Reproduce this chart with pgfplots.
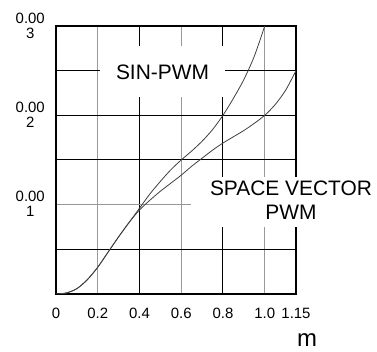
\documentclass[border=0pt]{standalone}
\usepackage{fontspec}
\setmainfont{Liberation Sans}
\usepackage{pgfplots}
\pgfplotsset{compat=1.18}
\begin{document}
\begin{tikzpicture}[x=1bp,y=1bp]
\useasboundingbox (0,0) rectangle (377,352);
\begin{axis}[
 at={(56bp,58bp)}, anchor=south west,
 scale only axis, width=240bp, height=268bp,
 xmin=0, xmax=1.15, ymin=0, ymax=0.003,
 scaled y ticks=false, scaled x ticks=false,
 /pgf/number format/assume math mode=true,
 axis line style={black, line width=1.1bp},
 xtick={0,0.4,0.8,1.15}, xticklabels={,,,,},
 minor xtick={0.2,0.6,1.0},
 ytick={0,0.0005,0.0015,0.002,0.0025,0.003}, yticklabels={,,,,,,},
 minor ytick={0.001},
 grid=both,
 major grid style={black, line width=1bp},
 minor grid style={black!40, line width=1.4bp},
 major tick length=0pt, minor tick length=0pt,
 tick style={draw=none},
 extra x ticks={0,0.2,0.4,0.6,0.8,1.0,1.15},
 extra x tick labels={0,0.2,0.4,0.6,0.8,1.0,1.15},
 extra x tick style={grid=none},
 extra y ticks={0.001,0.002,0.003},
 extra y tick labels={{0.00\\1},{0.00\\2},{0.00\\3}},
 extra y tick style={grid=none},
 tick label style={font=\fontsize{15}{15}\selectfont, inner sep=0pt},
 xticklabel style={anchor=north, yshift=-14bp},
 yticklabel style={align=center, anchor=east, xshift=-11bp, yshift=0.5bp},
]
\addplot[smooth, black!75, line width=0.8bp] coordinates {
(0,0) (0.05,0.000012) (0.1,0.00006) (0.15,0.00016) (0.2,0.0003) (0.25,0.00047)
(0.3,0.00064) (0.35,0.0008) (0.4,0.00096) (0.45,0.00112) (0.5,0.00126) (0.55,0.00139)
(0.6,0.0015) (0.65,0.0016) (0.7,0.00171) (0.75,0.00184) (0.8,0.002) (0.85,0.00219)
(0.9,0.0024) (0.95,0.00266) (1.0,0.003)};
\addplot[smooth, black!75, line width=0.8bp] coordinates {
(0,0) (0.05,0.000012) (0.1,0.00006) (0.15,0.00016) (0.2,0.0003) (0.25,0.00047)
(0.3,0.00064) (0.35,0.0008) (0.4,0.00094) (0.45,0.00105) (0.5,0.00115) (0.55,0.00124)
(0.6,0.00133) (0.65,0.00143) (0.7,0.00152) (0.75,0.00161) (0.8,0.00169) (0.85,0.00176)
(0.9,0.00183) (0.95,0.00191) (1.0,0.002) (1.05,0.00212) (1.1,0.00228) (1.15,0.0025)};
\end{axis}
\node[fill=white, inner sep=0, minimum width=125bp, minimum height=51bp, font=\fontsize{21}{24}\selectfont] at (162.5,280) {SIN-PWM};
\fill[white] (191,125) rectangle (391,175);
\node[inner sep=0, align=center, font=\fontsize{21}{24}\selectfont] at (291,152) {SPACE VECTOR\\PWM};
\node[font=\fontsize{24}{24}\selectfont, inner sep=0] at (307,12) {m};
\end{tikzpicture}
\end{document}
